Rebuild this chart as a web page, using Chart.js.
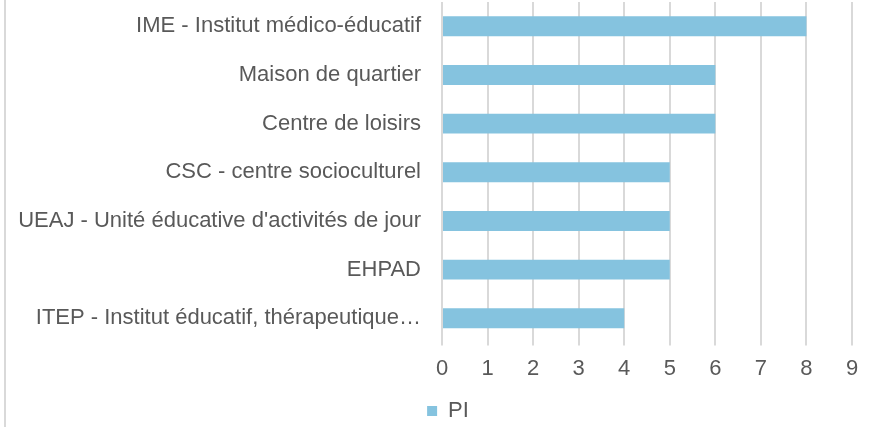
<!DOCTYPE html>
<html>
<head>
<meta charset="utf-8">
<script src="https://cdn.jsdelivr.net/npm/chart.js@4"></script>
<style>
  html, body { margin: 0; padding: 0; background: #fff; }
  #wrap { position: relative; width: 873px; height: 427px; }
  #edge { position: absolute; left: 4px; top: 0; width: 2px; height: 427px; background: #d9d9d9; }
</style>
</head>
<body>
<div id="wrap">
  <div id="edge"></div>
  <canvas id="bar-chart" width="873" height="427"></canvas>
</div>
<script>
var categories = [
    "IME - Institut médico-éducatif",
    "Maison de quartier",
    "Centre de loisirs",
    "CSC - centre socioculturel",
    "UEAJ - Unité éducative d'activités de jour",
    "EHPAD",
    "ITEP - Institut éducatif, thérapeutique…"
];
var seriesName = "PI";
var values = [8, 6, 6, 5, 5, 5, 4];
var tickLabels = [0, 1, 2, 3, 4, 5, 6, 7, 8, 9];

var textColor = "#595959";
var gridColor = "#d9d9d9";
var fontFamily = "'Liberation Sans', Arial, sans-serif";

// nudge the legend a bit right and down, the way it sits in the original
var legendShift = {
    id: 'legendShift',
    afterLayout: function (chart) {
        var lg = chart.legend;
        lg.left += 22; lg.right += 22;
        lg.top += 5; lg.bottom += 5;
    }
};

var ctx = document.getElementById('bar-chart');
var chart = new Chart(ctx, {
    type: 'bar',
    data: {
        labels: categories,
        datasets: [{
            label: seriesName,
            data: values,
            backgroundColor: "#85c3df",
            borderWidth: 0,
            categoryPercentage: 1,
            barPercentage: 0.41
        }]
    },
    options: {
        indexAxis: 'y',
        responsive: false,
        animation: false,
        layout: { padding: { top: 2, right: 21, bottom: 0, left: 0 } },
        plugins: {
            tooltip: { enabled: false },
            legend: {
                position: 'bottom',
                labels: {
                    color: textColor,
                    font: { family: fontFamily, size: 22 },
                    boxWidth: 10,
                    boxHeight: 10,
                    padding: 3
                }
            }
        },
        scales: {
            x: {
                min: 0,
                max: tickLabels[tickLabels.length - 1],
                ticks: {
                    stepSize: 1,
                    color: textColor,
                    padding: 10,
                    font: { family: fontFamily, size: 22 },
                    callback: function (v, i) { return tickLabels[i]; }
                },
                grid: { color: gridColor, lineWidth: 2, tickLength: 3, drawTicks: true, tickColor: gridColor },
                border: { display: false }
            },
            y: {
                ticks: {
                    color: textColor,
                    padding: 13,
                    font: { family: fontFamily, size: 22 }
                },
                grid: { display: false },
                border: { display: false },
                afterFit: function (scale) {
                    scale.width = 442;
                    scale.paddingTop = 0;
                    scale.paddingBottom = 0;
                }
            }
        }
    },
    plugins: [legendShift]
});
</script>
</body>
</html>
